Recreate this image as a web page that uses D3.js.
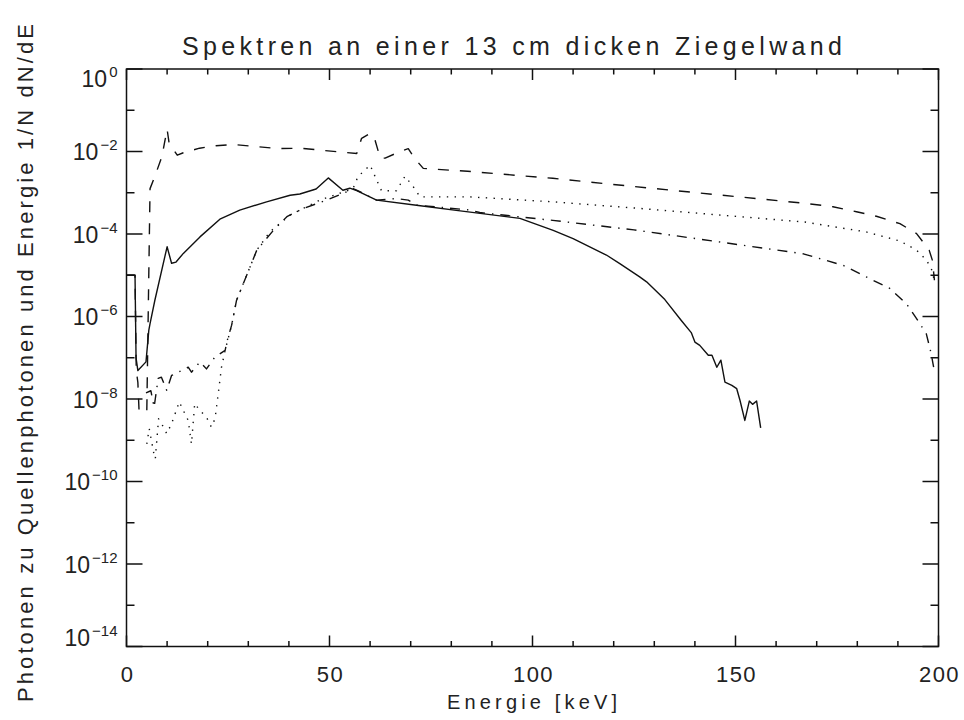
<!DOCTYPE html>
<html>
<head>
<meta charset="utf-8">
<script src="https://cdn.jsdelivr.net/npm/d3@7"></script>
<style>
  html, body { margin: 0; padding: 0; background: #fff; }
  svg { display: block; }
  text { font-family: "Liberation Sans", Arial, sans-serif; fill: #222; }
</style>
</head>
<body>
<svg id="chart" width="964" height="720"></svg>
<script>
// ---------- data (energies in keV, values as log10 of 1/N dN/dE) ----------
const xTickValues = [0, 50, 100, 150, 200];
const yTickExponents = [0, -2, -4, -6, -8, -10, -12, -14];

const solidE = [0, 2.1, 2.35, 2.8, 4.8, 5.5, 5.8, 7.0, 10.0, 11.1, 12.2, 14, 18.1, 23, 27.9, 34.5, 40.3, 42.7, 46.7, 49.7, 53.3, 55, 56.7, 61.6, 71.9, 82.2, 96.9, 105.1, 110, 118.2, 121.5, 126.4, 128.1, 132.6, 136.6, 139.1, 140, 141.2, 143.3, 144.2, 145.4, 146.4, 147.4, 149.1, 150.3, 151.1, 152.3, 153.4, 154.2, 155.2, 156.2];
const solidLog = [-5, -5, -7.0, -7.31, -7.1, -6.33, -6.17, -5.6, -4.31, -4.71, -4.68, -4.47, -4.07, -3.64, -3.42, -3.22, -3.06, -3.03, -2.91, -2.64, -2.94, -2.89, -2.95, -3.18, -3.31, -3.44, -3.62, -3.91, -4.11, -4.51, -4.72, -5.04, -5.16, -5.59, -6.09, -6.39, -6.62, -6.70, -6.94, -6.94, -7.23, -7.06, -7.59, -7.67, -7.75, -8.03, -8.52, -8.05, -8.13, -8.05, -8.70];

const dashedE = [0, 2.1, 2.4, 2.8, 3.1, 4.2, 5.0, 5.8, 7.1, 8.7, 9.5, 10.0, 10.5, 12.5, 14, 18, 22, 26.3, 37.3, 42.8, 56.7, 57.9, 60, 61.2, 62.5, 63.7, 67.4, 69.4, 71, 73.1, 84, 105, 125, 167.5, 174, 179.8, 184.7, 190.5, 194.6, 197.7, 198.5, 199];
const dashedLog = [-5, -5, -7.3, -7.6, -8.3, -8.33, -8.3, -2.9, -2.57, -2.13, -1.72, -1.46, -1.8, -2.09, -2.03, -1.92, -1.86, -1.83, -1.93, -1.92, -2.05, -1.68, -1.56, -1.72, -2.16, -2.16, -2.0, -1.93, -2.17, -2.41, -2.48, -2.65, -2.85, -3.26, -3.34, -3.46, -3.57, -3.75, -3.99, -4.39, -4.64, -5.12];

const dottedE = [5.0, 5.6, 6.9, 7.1, 7.9, 9.1, 9.9, 11.1, 13, 14, 15.2, 16, 16.8, 18.1, 19.7, 20.9, 21.8, 22.6, 23.4, 24.3, 25.9, 27.1, 32.1, 35.3, 40.3, 47.6, 55.8, 57, 60, 61.6, 62.8, 66.5, 68.6, 70.6, 72.3, 84.6, 105, 126.4, 167.1, 182.2, 190.5, 194.6, 197.1, 198.5, 199];
const dottedLog = [-9.09, -8.72, -9.41, -9.45, -8.48, -8.68, -8.84, -8.6, -8.07, -8.28, -8.52, -9.09, -8.11, -8.28, -8.44, -8.68, -8.48, -7.87, -7.23, -6.82, -6.21, -5.61, -4.39, -3.95, -3.54, -3.18, -2.9, -2.61, -2.33, -2.69, -2.95, -2.95, -2.6, -2.85, -3.1, -3.10, -3.22, -3.38, -3.71, -3.95, -4.17, -4.39, -4.64, -4.9, -5.16];

const dashDotE = [4.8, 6.0, 6.8, 7.8, 8.6, 9.9, 11.1, 13.6, 15.2, 16.0, 18.1, 19.7, 21.8, 24.3, 24.7, 25.9, 27.1, 32.1, 36.2, 39.5, 43.6, 49.3, 54.2, 55.8, 56.8, 61.6, 66.5, 69.4, 71.5, 84.6, 87, 105, 125, 166.7, 176.5, 182.2, 188, 192.1, 194.6, 197, 198.2, 198.8];
const dashDotLog = [-7.85, -7.8, -8.2, -7.5, -7.47, -7.79, -7.43, -7.31, -7.23, -7.35, -7.1, -7.27, -6.98, -6.82, -6.62, -6.21, -5.61, -4.39, -3.91, -3.58, -3.38, -3.18, -2.98, -2.9, -2.94, -3.18, -3.14, -3.18, -3.3, -3.42, -3.48, -3.67, -3.9, -4.48, -4.76, -5.04, -5.32, -5.69, -6.05, -6.42, -6.9, -7.23];

const seriesList = [
  { E: solidE, L: solidLog, dash: null, width: 1.4 },
  { E: dashedE, L: dashedLog, dash: "11,11", width: 1.4 },
  { E: dottedE, L: dottedLog, dash: "1.4,6.4", width: 1.4 },
  { E: dashDotE, L: dashDotLog, dash: "10,7,1.4,7", width: 1.4 }
];

// ---------- layout ----------
const plotL = 126.5, plotR = 938.5, plotT = 69, plotB = 646.5;
const svg = d3.select("#chart");

const x = d3.scaleLinear().domain([0, 200]).range([plotL, plotR]);
const y = d3.scaleLog().domain([1e-14, 1]).range([plotB, plotT]);

svg.append("defs").append("clipPath").attr("id", "clip")
  .append("rect").attr("x", plotL).attr("y", plotT)
  .attr("width", plotR - plotL).attr("height", plotB - plotT);

// ---------- series ----------
const line = d3.line().x(d => x(d[0])).y(d => y(d[1]));
const gLines = svg.append("g").attr("clip-path", "url(#clip)");
seriesList.forEach(s => {
  const pts = s.E.map((e, i) => [e, Math.pow(10, s.L[i])]);
  gLines.append("path")
    .attr("d", line(pts))
    .attr("fill", "none")
    .attr("stroke", "#111")
    .attr("stroke-width", s.width)
    .attr("stroke-linejoin", "round")
    .attr("stroke-dasharray", s.dash);
});

// ---------- axes ----------
const axisColor = "#111";
const axisW = 1.5;

const xMinor = d3.range(0, 201, 10).filter(v => v % 50 !== 0);
const bottomAxis = d3.axisBottom(x).tickValues(xTickValues).tickSize(0).tickFormat("");
svg.append("g").attr("transform", `translate(0,${plotB})`).call(bottomAxis)
  .call(g => g.select(".domain").remove());

const gAx = svg.append("g").attr("stroke", axisColor).attr("stroke-width", axisW).attr("fill", "none");
gAx.append("rect").attr("x", plotL).attr("y", plotT).attr("width", plotR - plotL).attr("height", plotB - plotT);

xTickValues.forEach(v => {
  gAx.append("line").attr("x1", x(v)).attr("x2", x(v)).attr("y1", plotB).attr("y2", plotB - 11);
  gAx.append("line").attr("x1", x(v)).attr("x2", x(v)).attr("y1", plotT).attr("y2", plotT + 11);
});
xMinor.forEach(v => {
  gAx.append("line").attr("x1", x(v)).attr("x2", x(v)).attr("y1", plotB).attr("y2", plotB - 5.5);
  gAx.append("line").attr("x1", x(v)).attr("x2", x(v)).attr("y1", plotT).attr("y2", plotT + 5.5);
});

const yMajor = yTickExponents.map(e => Math.pow(10, e));
const yMinor = d3.range(-1, -14, -2).map(e => Math.pow(10, e));
yMajor.forEach(v => {
  gAx.append("line").attr("x1", plotL).attr("x2", plotL + 16).attr("y1", y(v)).attr("y2", y(v));
  gAx.append("line").attr("x1", plotR).attr("x2", plotR - 16).attr("y1", y(v)).attr("y2", y(v));
});
yMinor.forEach(v => {
  gAx.append("line").attr("x1", plotL).attr("x2", plotL + 8).attr("y1", y(v)).attr("y2", y(v));
  gAx.append("line").attr("x1", plotR).attr("x2", plotR - 8).attr("y1", y(v)).attr("y2", y(v));
});

// x tick labels
svg.append("g").selectAll("text").data(xTickValues).join("text")
  .attr("x", d => x(d) + 1)
  .attr("y", 682)
  .attr("text-anchor", "middle")
  .attr("font-size", 22)
  .attr("letter-spacing", 1.5)
  .text(d => d3.format("d")(d));

// y tick labels with superscript exponents
yTickExponents.forEach((e, i) => {
  let base = y(Math.pow(10, e)) + 8.5;
  if (i === 0) base = 87;
  if (i === yTickExponents.length - 1) base = 646;
  const t = svg.append("text")
    .attr("x", 117.5).attr("y", base)
    .attr("text-anchor", "end")
    .attr("font-size", 23);
  t.append("tspan").text("10");
  t.append("tspan").attr("dy", -10).attr("dx", 2).attr("font-size", 15)
    .text(e === 0 ? "0" : "\u2212" + Math.abs(e));
});

// title
svg.append("text")
  .attr("x", 182).attr("y", 55)
  .attr("font-size", 25)
  .attr("textLength", 660).attr("lengthAdjust", "spacing")
  .text("Spektren an einer 13 cm dicken Ziegelwand");

// x axis title
svg.append("text")
  .attr("x", 447).attr("y", 709)
  .attr("font-size", 20)
  .attr("textLength", 170).attr("lengthAdjust", "spacing")
  .text("Energie [keV]");

// y axis title
svg.append("text")
  .attr("transform", "translate(33,702) rotate(-90)")
  .attr("font-size", 22)
  .attr("textLength", 678).attr("lengthAdjust", "spacing")
  .text("Photonen zu Quellenphotonen und Energie 1/N dN/dE");
</script>
</body>
</html>
